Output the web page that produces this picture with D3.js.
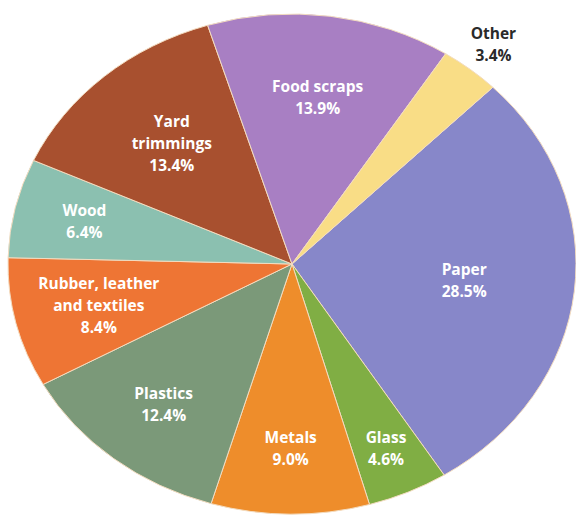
<!DOCTYPE html>
<html>
<head>
<meta charset="utf-8">
<script src="https://cdn.jsdelivr.net/npm/d3@7"></script>
<style>
  body { margin: 0; background: #fff; }
  svg { display: block; }
  .lbl { font-family: "Open Sans", sans-serif; font-weight: 700; font-size: 15.5px; }
</style>
</head>
<body>
<svg id="chart" width="576" height="517"></svg>
<script>
// clockwise from the top-right
const categories = ["Paper", "Glass", "Metals", "Plastics", "Rubber, leather|and textiles", "Wood", "Yard|trimmings", "Food scraps", "Other"]
const shares = [28.5, 4.6, 9.0, 12.4, 8.4, 6.4, 13.4, 13.9, 3.4]
const colors = ["#8787c9", "#80ae44", "#ee8d2b", "#7b9979", "#ee7534", "#8bc0b0", "#a8502f", "#a87fc3", "#f9dd86"]

// how far out each label sits (fraction of radius)
const labelR = [0.61, 0.81, 0.74, 0.72, 0.70, 0.75, 0.64, 0.67, 1.13]

const svg = d3.select('#chart')
const cx = 292, cy = 264, rx = 284, ry = 250

const slices = categories.map((c, i) => ({name: c, value: shares[i], color: colors[i], lr: labelR[i]}))

const pie = d3.pie()
    .sort(null)
    .value(d => d.value)
    .startAngle(45 * Math.PI / 180)
    .endAngle(45 * Math.PI / 180 + 2 * Math.PI)

const arcs = pie(slices)
const arc = d3.arc().innerRadius(0).outerRadius(rx)

const g = svg.append('g')
    .attr('transform', `translate(${cx},${cy}) scale(1,${ry / rx})`)

g.selectAll('path')
    .data(arcs)
    .enter()
    .append('path')
    .attr('d', arc)
    .attr('fill', d => d.data.color)
    .attr('stroke', '#f3dcc0')
    .attr('stroke-width', 1)
    .attr('vector-effect', 'non-scaling-stroke')

const lineH = 22
svg.append('g')
    .selectAll('text')
    .data(arcs)
    .enter()
    .append('text')
    .attr('class', 'lbl')
    .attr('text-anchor', 'middle')
    .attr('fill', d => d.data.name === 'Other' ? '#2a2a2a' : '#fff')
    .each(function (d) {
        const mid = (d.startAngle + d.endAngle) / 2
        const x = cx + Math.sin(mid) * rx * d.data.lr
        const y = cy - Math.cos(mid) * ry * d.data.lr
        const lines = d.data.name.split('|').concat([d.data.value.toFixed(1) + '%'])
        const top = y - (lines.length - 1) * lineH / 2
        const t = d3.select(this)
        lines.forEach((ln, k) => {
            t.append('tspan')
                .attr('x', x)
                .attr('y', top + k * lineH)
                .attr('dy', '0.35em')
                .text(ln)
        })
    })
</script>
</body>
</html>
